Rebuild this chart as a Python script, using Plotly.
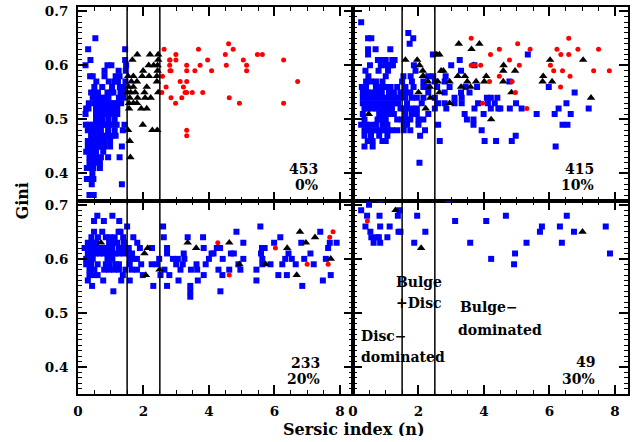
import plotly.graph_objects as go
from plotly.subplots import make_subplots

# ---- data: rows of (Gini, [Sersic index values]) ----
# top-left panel
tl_disc_rows = [
    (0.65, [0.53]),
    (0.63, [0.31, 1.44]),
    (0.61, [0.38, 1.44]),
    (0.60, [0.23, 0.90, 1.02, 1.47]),
    (0.59, [0.81, 1.24, 1.46]),
    (0.58, [0.37, 0.45, 0.81, 1.15, 1.27]),
    (0.57, [0.56, 0.94, 1.12, 1.22, 1.45]),
    (0.56, [0.50, 0.74, 1.04, 1.28, 1.38]),
    (0.55, [0.40, 0.50, 0.61, 0.90, 1.00, 1.08, 1.30, 1.38]),
    (0.54, [0.45, 0.55, 0.65, 0.75, 0.85, 0.93, 1.25, 1.38]),
    (0.53, [0.33, 0.50, 0.60, 0.70, 0.80, 0.90, 1.00, 1.10, 1.20, 1.32]),
    (0.52, [0.25, 0.32, 0.55, 0.65, 0.75, 0.85, 0.95, 1.05, 1.20]),
    (0.51, [0.23, 0.55, 0.65, 0.75, 0.85, 0.95, 1.05, 1.20]),
    (0.50, [0.55, 0.65, 0.75, 0.93, 1.12]),
    (0.49, [0.24, 0.34, 0.44, 0.54, 0.64, 0.74, 0.84, 0.94, 1.04, 1.18, 1.42]),
    (0.48, [0.30, 0.40, 0.50, 0.60, 0.70, 0.92, 1.12, 1.37]),
    (0.47, [0.40, 0.50, 0.60, 0.70, 0.80, 0.90, 1.02, 1.15]),
    (0.46, [0.30, 0.40, 0.50, 0.60, 0.70, 0.80, 0.98]),
    (0.45, [0.30, 0.40, 0.50, 0.60, 0.70, 0.80, 0.98, 1.34]),
    (0.44, [0.25, 0.35, 0.45, 0.55, 0.77]),
    (0.43, [0.35, 0.45, 0.55, 0.70, 0.92, 1.27]),
    (0.42, [0.35, 0.45, 0.55, 0.67]),
    (0.41, [0.27, 0.37, 0.47, 0.67]),
    (0.40, [0.44]),
    (0.39, [0.27, 0.37, 0.47]),
    (0.38, [0.42, 1.34]),
    (0.36, [0.35, 0.48]),
]
tl_mixed_n = [1.81, 2.20, 2.45, 1.66, 2.45, 2.16, 2.31, 2.43, 1.99, 2.43, 1.53, 1.69,
              1.96, 2.17, 2.41, 1.63, 1.80, 2.41, 1.55, 1.69, 2.10, 1.51, 1.61, 1.75,
              2.03, 2.45, 1.58, 1.82, 2.05, 2.22, 1.56, 1.69, 1.80, 1.56, 1.93, 2.10,
              1.98, 1.53, 2.27, 2.42, 1.58, 1.60]
tl_mixed_g = [0.62, 0.62, 0.62, 0.61, 0.61, 0.60, 0.60, 0.60, 0.59, 0.59, 0.58, 0.58,
              0.58, 0.58, 0.58, 0.57, 0.57, 0.57, 0.56, 0.56, 0.56, 0.55, 0.55, 0.55,
              0.55, 0.55, 0.54, 0.54, 0.54, 0.54, 0.53, 0.53, 0.53, 0.52, 0.52, 0.52,
              0.49, 0.48, 0.48, 0.48, 0.46, 0.43]
tl_bulge_n = [2.63, 2.58, 2.56, 2.69, 2.80, 2.81, 2.80, 2.81, 2.84, 2.84, 2.99, 2.99,
              2.98, 3.12, 3.17, 3.22, 3.27, 3.32, 3.32, 3.32, 3.32, 3.32, 3.32, 3.49,
              3.57, 3.68, 3.73, 3.81, 3.96, 4.08, 4.50, 4.53, 4.60, 4.62, 4.74, 4.93,
              5.05, 5.15, 5.15, 5.48, 5.63, 6.28, 6.28, 6.71]
tl_bulge_g = [0.63, 0.58, 0.55, 0.56, 0.61, 0.61, 0.60, 0.59, 0.59, 0.54, 0.62, 0.61,
              0.53, 0.57, 0.54, 0.56, 0.55, 0.60, 0.59, 0.57, 0.55, 0.48, 0.47, 0.55,
              0.59, 0.63, 0.60, 0.55, 0.61, 0.59, 0.62, 0.60, 0.64, 0.54, 0.63, 0.53,
              0.61, 0.60, 0.59, 0.62, 0.62, 0.61, 0.53, 0.57]

# top-right panel
tr_disc_rows = [
    (0.68, [0.25]),
    (0.66, [1.69]),
    (0.65, [0.46, 0.56, 1.84]),
    (0.64, [1.73]),
    (0.63, [0.46, 0.69, 1.14]),
    (0.62, [0.46, 2.44, 5.34]),
    (0.61, [0.76, 0.90, 1.00, 1.20, 1.27, 3.26]),
    (0.60, [0.52, 0.85, 1.00, 1.15, 1.22, 1.86, 3.00, 3.71]),
    (0.59, [0.38, 0.78, 1.07, 1.91, 3.30]),
    (0.58, [0.47, 1.00, 1.54, 1.76, 2.30, 2.45, 2.83]),
    (0.57, [0.40, 0.55, 0.70, 0.90, 1.50, 1.80, 2.15, 2.50, 2.80, 4.78]),
    (0.56, [0.27, 0.40, 0.70, 0.85, 1.00, 1.15, 1.35, 1.60, 1.85, 2.15, 2.30, 2.57,
            2.95, 3.44, 3.79, 5.98]),
    (0.55, [0.30, 0.45, 0.60, 0.75, 0.88, 1.10, 1.25, 1.45, 1.60, 1.75, 2.30, 2.80,
            3.30, 3.56, 6.77]),
    (0.54, [0.30, 0.42, 0.54, 0.66, 0.78, 0.90, 1.02, 1.14, 1.26, 1.40, 1.60, 1.80,
            1.95, 2.15, 2.50, 3.10, 3.32, 4.09, 4.21, 4.41]),
    (0.53, [0.30, 0.42, 0.54, 0.66, 0.78, 0.90, 1.02, 1.14, 1.26, 1.38, 1.65, 2.10,
            2.60, 2.80, 3.10, 3.32, 3.82, 4.12, 4.33, 4.98, 6.52]),
    (0.52, [0.35, 0.47, 0.59, 0.71, 0.83, 0.95, 1.07, 1.19, 1.45, 1.55, 1.65, 1.80,
            1.95, 2.50, 2.85, 3.71, 4.21, 4.44, 4.50, 4.79, 5.15, 6.28, 7.20]),
    (0.51, [0.30, 0.80, 0.95, 1.10, 1.25, 1.60, 1.80, 1.95, 2.30, 3.41, 3.99, 5.61,
            6.16, 6.65]),
    (0.50, [0.35, 0.75, 0.90, 1.00, 1.35, 1.50, 1.60, 1.75, 2.00, 2.15, 3.48, 3.68]),
    (0.49, [0.25, 0.40, 0.55, 0.70, 0.90, 1.05, 1.55, 1.65, 2.00, 2.60, 3.68, 6.40,
            6.55]),
    (0.48, [0.35, 0.47, 0.59, 0.71, 0.83, 0.95, 1.07, 1.19, 1.35, 1.55, 1.75, 2.20,
            3.93]),
    (0.47, [0.35, 0.55, 0.80, 1.05, 2.05, 4.97]),
    (0.46, [0.45, 0.60, 0.90, 1.00, 2.65, 4.02, 4.37, 4.85]),
    (0.45, [0.35, 0.60, 6.19]),
    (0.42, [2.03]),
]
tr_mixed_n = [3.23, 3.86, 3.62, 2.56, 2.64, 1.60, 1.96, 6.02, 7.03, 2.03, 3.68, 4.60,
              2.13, 2.69, 2.76, 4.59, 4.95, 2.13, 3.20, 3.42, 4.07, 5.81, 2.29, 2.59,
              2.95, 3.49, 3.76, 4.01, 4.59, 5.79, 6.08, 3.30, 3.59, 2.00, 2.64, 4.84,
              2.36, 7.27, 2.95, 2.22, 0.48, 4.22, 2.15, 2.35]
tr_mixed_g = [0.64, 0.64, 0.63, 0.62, 0.62, 0.61, 0.61, 0.61, 0.61, 0.60, 0.60, 0.60,
              0.59, 0.59, 0.59, 0.59, 0.59, 0.58, 0.58, 0.58, 0.58, 0.58, 0.57, 0.57,
              0.57, 0.57, 0.57, 0.57, 0.57, 0.57, 0.57, 0.56, 0.56, 0.55, 0.55, 0.55,
              0.54, 0.54, 0.53, 0.52, 0.51, 0.50, 0.58, 0.56]
tr_bulge_n = [3.61, 6.59, 5.03, 4.47, 5.41, 6.23, 6.87, 7.50, 4.20, 6.35, 6.59, 4.78,
              3.61, 3.90, 5.08, 6.03, 6.13, 6.40, 7.35, 7.83, 4.47, 6.63, 4.17, 4.86,
              6.34, 4.96, 3.96, 5.31, 3.71]
tr_bulge_g = [0.65, 0.65, 0.64, 0.63, 0.63, 0.63, 0.63, 0.63, 0.62, 0.62, 0.62, 0.61,
              0.60, 0.60, 0.60, 0.60, 0.59, 0.59, 0.59, 0.59, 0.58, 0.58, 0.57, 0.57,
              0.56, 0.55, 0.53, 0.52, 0.60]

# bottom-left panel
bl_disc_rows = [
    (0.68, [0.59, 1.05]),
    (0.67, [0.49, 0.79, 1.26]),
    (0.66, [1.50, 2.60, 5.57]),
    (0.65, [0.49, 0.74, 1.24, 1.30, 4.84, 7.40]),
    (0.64, [0.41, 0.61, 0.85, 0.97, 1.12, 1.38, 1.69, 2.62, 3.35, 3.82, 6.18]),
    (0.63, [0.30, 0.42, 0.55, 0.95, 1.08, 1.20, 1.40, 1.81, 5.05, 5.99, 6.82, 7.69,
            7.90]),
    (0.62, [0.20, 0.32, 0.45, 0.58, 0.70, 0.82, 0.95, 1.05, 1.25, 1.38, 1.55, 1.89,
            2.26, 2.72, 3.84, 4.24, 4.34, 5.62, 5.70, 7.64]),
    (0.61, [0.30, 0.42, 0.54, 0.66, 0.78, 0.90, 1.02, 1.14, 1.26, 1.40, 1.55, 1.65,
            2.72, 3.23, 4.08, 4.14, 4.67, 4.76, 5.59, 6.43, 7.10]),
    (0.60, [0.25, 0.35, 0.45, 0.90, 1.05, 1.60, 1.70, 1.80, 2.48, 2.90, 3.05, 3.25,
            4.00, 4.42, 5.05, 5.63, 6.33, 6.53, 6.91, 7.57]),
    (0.59, [0.25, 0.40, 0.60, 0.85, 0.97, 1.15, 1.25, 1.58, 1.93, 2.25, 2.40, 3.00,
            3.20, 3.62, 3.90, 4.90, 5.63, 5.88, 6.24, 6.65, 7.20]),
    (0.58, [0.35, 0.50, 0.80, 0.95, 1.10, 1.25, 1.45, 1.65, 1.80, 2.64, 3.13, 3.45,
            3.64, 4.29, 4.62, 4.96, 5.45]),
    (0.57, [0.35, 0.50, 0.60, 1.37, 1.98, 2.52, 2.79, 3.84, 4.41, 6.12, 6.38, 7.72]),
    (0.56, [0.30, 0.77, 1.32, 1.58, 3.07, 3.66, 5.45, 7.48]),
    (0.55, [0.43, 2.30, 2.72, 3.43, 6.85]),
    (0.54, [1.08, 3.43, 4.35]),
    (0.53, [3.43]),
]
bl_mixed_n = [0.70, 2.03, 2.13, 2.07, 2.49, 3.35, 3.61, 4.62, 4.93, 5.73, 6.39, 6.68,
              6.78, 6.96, 7.24, 7.72]
bl_mixed_g = [0.63, 0.61, 0.62, 0.57, 0.58, 0.63, 0.62, 0.63, 0.59, 0.59, 0.62, 0.57,
              0.65, 0.63, 0.64, 0.60]
bl_bulge_n = [4.27, 4.62, 6.03, 7.00, 7.64, 7.69, 7.79]
bl_bulge_g = [0.63, 0.57, 0.62, 0.59, 0.59, 0.64, 0.65]

# bottom-right panel
br_disc_n = [0.25, 0.49, 0.83, 0.43, 0.81, 1.37, 1.42, 1.96, 3.12, 4.07, 4.67, 6.53,
             0.38, 0.83, 1.12, 5.77, 6.32, 7.72, 0.53, 1.39, 1.45, 2.21, 5.71, 6.75,
             0.56, 0.73, 0.79, 1.05, 0.63, 0.83, 1.87, 3.58, 5.30, 6.38, 4.22, 4.95,
             4.92, 7.85, 2.91]
br_disc_g = [0.69, 0.70, 0.71, 0.68, 0.68, 0.68, 0.69, 0.68, 0.67, 0.67, 0.68, 0.68,
             0.66, 0.66, 0.66, 0.66, 0.66, 0.66, 0.65, 0.65, 0.65, 0.65, 0.65, 0.65,
             0.64, 0.64, 0.64, 0.64, 0.63, 0.63, 0.63, 0.63, 0.63, 0.63, 0.60, 0.61,
             0.59, 0.61, 0.71]
br_mixed_n = [1.30, 2.08, 7.01]
br_mixed_g = [0.69, 0.62, 0.65]
br_bulge_n = [0.44]
br_bulge_g = [0.67]

panel_counts = ["453", "415", "233", "49"]
panel_percents = ["0%", "10%", "20%", "30%"]
class_bounds = [1.5, 2.5]


def expand(rows):
    xs, ys = [], []
    for g, ns in rows:
        for n in ns:
            xs.append(n)
            ys.append(g)
    return xs, ys


tl_disc_n, tl_disc_g = expand(tl_disc_rows)
tr_disc_n, tr_disc_g = expand(tr_disc_rows)
bl_disc_n, bl_disc_g = expand(bl_disc_rows)

panels = [
    (1, 1, (tl_disc_n, tl_disc_g), (tl_mixed_n, tl_mixed_g), (tl_bulge_n, tl_bulge_g)),
    (1, 2, (tr_disc_n, tr_disc_g), (tr_mixed_n, tr_mixed_g), (tr_bulge_n, tr_bulge_g)),
    (2, 1, (bl_disc_n, bl_disc_g), (bl_mixed_n, bl_mixed_g), (bl_bulge_n, bl_bulge_g)),
    (2, 2, (br_disc_n, br_disc_g), (br_mixed_n, br_mixed_g), (br_bulge_n, br_bulge_g)),
]

FONT = "DejaVu Serif"


def tfont(size):
    return dict(family=FONT, size=size, color="black", weight="bold")


fig = make_subplots(rows=2, cols=2, horizontal_spacing=0, vertical_spacing=0)

for r, c, disc, mixed, bulge in panels:
    fig.add_trace(go.Scatter(x=disc[0], y=disc[1], mode="markers",
                             marker=dict(symbol="square", size=6, color="#0000ff",
                                         line=dict(width=0)),
                             showlegend=False, hoverinfo="skip"), row=r, col=c)
    fig.add_trace(go.Scatter(x=mixed[0], y=mixed[1], mode="markers",
                             marker=dict(symbol="triangle-up", size=7.5, color="black",
                                         line=dict(width=0)),
                             showlegend=False, hoverinfo="skip"), row=r, col=c)
    fig.add_trace(go.Scatter(x=bulge[0], y=bulge[1], mode="markers",
                             marker=dict(symbol="circle", size=5, color="#ff0000",
                                         line=dict(width=0)),
                             showlegend=False, hoverinfo="skip"), row=r, col=c)
    for xb in class_bounds:
        fig.add_vline(x=xb, line=dict(color="black", width=1.5), row=r, col=c)

axis_common = dict(
    showline=True, linecolor="black", linewidth=2, mirror="allticks",
    ticks="inside", ticklen=9, tickwidth=1.5, tickcolor="black",
    showgrid=False, zeroline=False,
    tickfont=tfont(13.5),
)
for r in (1, 2):
    for c in (1, 2):
        fig.update_xaxes(range=[0, 8.4], tick0=0, dtick=2,
                         minor=dict(dtick=0.5, ticklen=4, tickwidth=1.2,
                                    ticks="inside", tickcolor="black"),
                         showticklabels=(r == 2), ticklabelstandoff=4,
                         row=r, col=c, **axis_common)
        fig.update_yaxes(range=[0.35, 0.708], tick0=0.4, dtick=0.1, tickformat=".1f",
                         minor=dict(dtick=0.01, ticklen=4, tickwidth=1.2,
                                    ticks="inside", tickcolor="black"),
                         showticklabels=(c == 1), ticklabelstandoff=5,
                         row=r, col=c, **axis_common)

# counts and fractions in each panel
count_pos = [(1, 1, 7.39, 0.410, 0.379), (1, 2, 7.43, 0.410, 0.379),
             (2, 1, 7.45, 0.408, 0.378), (2, 2, 7.46, 0.410, 0.378)]
for i, (r, c, xx, y1, y2) in enumerate(count_pos):
    k = (r - 1) * 2 + c
    xr = "x" if k == 1 else f"x{k}"
    yr = "y" if k == 1 else f"y{k}"
    for txt, yy in ((panel_counts[i], y1), (panel_percents[i], y2)):
        fig.add_annotation(x=xx, y=yy, xref=xr, yref=yr, text=txt, height=15,
                           showarrow=False, xanchor="right", yanchor="middle",
                           font=tfont(14))

# morphology region labels
region_labels = [
    ("Bulge", 1.24, 0.559), ("+Disc", 1.24, 0.520),
    ("Bulge\u2212", 3.22, 0.511), ("dominated", 3.15, 0.470),
    ("Disc\u2212", 0.18, 0.458), ("dominated", 0.17, 0.419),
]
for txt, xx, yy in region_labels:
    fig.add_annotation(x=xx, y=yy, xref="x4", yref="y4", text=txt, showarrow=False,
                       height=17, xanchor="left", yanchor="middle", font=tfont(14))

# axis titles
fig.add_annotation(x=-0.1027, y=0.4987, xref="paper", yref="paper", text="Gini",
                   textangle=-90, showarrow=False, xanchor="center", yanchor="middle",
                   font=tfont(16))
fig.add_annotation(x=0.5018, y=-0.0905, xref="paper", yref="paper",
                   text="Sersic index (n)", showarrow=False, height=14,
                   xanchor="center", yanchor="middle", font=tfont(16))

fig.update_layout(
    width=641, height=442,
    margin=dict(l=78, r=13, t=3, b=48),
    paper_bgcolor="white", plot_bgcolor="white",
    showlegend=False,
)

fig.write_html("out.html")
